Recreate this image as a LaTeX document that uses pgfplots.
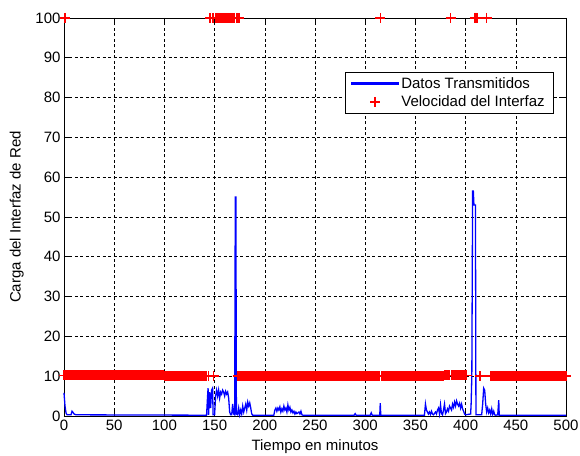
\documentclass[border=0pt]{standalone}
\usepackage{fontspec}
\setmainfont{Liberation Sans}
\usepackage{pgfplots}
\pgfplotsset{compat=1.18}
\usetikzlibrary{calc}
\pgfplotsset{
  lineleg/.style={legend image code/.code={
    \fill[blue] (0pt,-0.65pt) rectangle (47pt,0.65pt);}},
  markleg/.style={legend image code/.code={
    \path[draw=none] (0pt,0pt) -- (47pt,0pt);
    \draw[draw=red, line width=1.5pt, mark=+, mark size=5pt, only marks]
      plot coordinates {(23.5pt,0pt)};}},
}

\begin{document}
\begin{tikzpicture}
\begin{axis}[
  scale only axis,
  width=502pt, height=398pt,
  xmin=0, xmax=500, ymin=0, ymax=100,
  xtick={0,50,...,500}, ytick={0,10,...,100},
  /pgf/number format/assume math mode=true,
  tick label style={font=\fontsize{15}{18}\selectfont},
  label style={font=\fontsize{15}{18}\selectfont},
  xlabel={Tiempo en minutos},
  ylabel={Carga del Interfaz de Red},
  xlabel style={at={(axis description cs:0.5,-0.076)}, anchor=center},
  ylabel style={at={(axis description cs:-0.094,0.5)}, anchor=center},
  grid=major,
  major grid style={black, dash pattern=on 3pt off 2.5pt, line width=0.6pt},
  major tick length=5pt,
  tick style={black, line width=0.6pt},
  axis line style={black, line width=0.8pt},
  clip=false,
  legend style={at={(rel axis cs:0.974,0.864)}, anchor=north east,
    font=\fontsize{15}{18}\selectfont, row sep=2pt,
    inner xsep=6pt, inner ysep=3pt},
  legend cell align=left,
]

% datos transmitidos
\addplot[blue, line width=1.3pt, lineleg]
coordinates {
(0,5.8)(1,2.5)(2,0.8)(3,0.3)(7,0.3)(8,1.2)(9,0.9)(10,0.5)(12,0.3)(142,0.2)
(143,5)(143.5,7)(144,0.3)(145,6)(146,2)(147,6.5)(148,7)(148.5,0.3)(150,0.3)
(151,5)(152,6.5)(153,5)(154,6.5)(155,4.5)(156,6)(157,5.5)(158,6.5)(159,6)
(160,5)(161,6.2)(162,5.5)(163,6)(164,4.5)(165,1)(166,0.3)(167,0.3)(168,3)
(169,0.5)(170,0.3)(170.6,55)(171.2,55)(171.7,0.5)(173,0.3)(174,2)(175,0.3)
(176,1.5)(177,0.5)(178,2.5)(179,1)(180,2)(181,3)(182,1.5)(183,3.5)(184,2.5)
(185,3.3)(186,2)(187,0.5)(188,0.2)(209,0.2)(210,1.5)(211,2)(212,1.2)(213,2)
(214,1.5)(215,2.3)(216,1)(217,1.8)(218,1.2)(219,2.5)(220,1.5)(221,2)(222,1)
(223,2.8)(224,1.5)(225,2.2)(226,1)(227,1.5)(228,0.8)(229,1.2)(230,0.5)(231,1)
(232,0.6)(234,1)(235,0.5)(236,1.2)(237,0.3)(238,0.2)(289,0.2)(290,0.6)(291,0.2)
(305,0.2)(306,0.8)(307,0.2)(314.5,0.2)(315,3.2)(315.5,0.2)(359,0.2)(360,3)
(361,1.5)(362,1)(363,0.5)(364,1)(365,0.4)(366,1.2)(367,0.5)(368,0.3)(370,1)
(371,0.5)(372,1.5)(373,2)(374,0.5)(375,2.8)(376,0.6)(377,0.3)(378,1.5)(379,3)
(380,0.6)(381,1)(382,1.8)(383,1.2)(384,2.5)(385,2)(386,1.5)(387,3)(388,2.2)
(389,3.5)(390,2.5)(391,3.8)(392,3)(393,2.5)(394,3.2)(395,2)(396,3)(397,1.8)
(398,1.2)(399,0.5)(400,0.3)(405,0.5)(405.5,3)(406.2,10)(407,56.5)(407.7,56.5)
(408.3,53)(409.8,53)(410.3,0.3)(416,0.3)(417,3)(418,7)(419,6.5)(420,3)(421,1)
(422,2)(423,0.8)(424,1.5)(425,0.5)(426,1.8)(427,0.4)(428,1.2)(429,0.3)(430,0.2)
(432,0.3)(433,4)(433.5,0.2)(500,0.2)
};
\addlegendentry{Datos Transmitidos}

% velocidad del interfaz
\addplot[only marks, red, mark=+, mark size=5pt, line width=1.5pt, markleg]
coordinates {
(0,10.2)(1,10.2)(2,10.2)(3,10.2)(4,10.2)(5,10.2)(6,10.2)(7,10.2)(8,10.2)(9,10.2)
(10,10.2)(11,10.2)(12,10.2)(13,10.2)(14,10.2)(15,10.2)(16,10.2)(17,10.2)(18,10.2)(19,10.2)
(20,10.2)(21,10.2)(22,10.2)(23,10.2)(24,10.2)(25,10.2)(26,10.2)(27,10.2)(28,10.2)(29,10.2)
(30,10.2)(31,10.2)(32,10.2)(33,10.2)(34,10.2)(35,10.2)(36,10.2)(37,10.2)(38,10.2)(39,10.2)
(40,10.2)(41,10.2)(42,10.2)(43,10.2)(44,10.2)(45,10.2)(46,10.2)(47,10.2)(48,10.2)(49,10.2)
(50,10.2)(51,10.2)(52,10.2)(53,10.2)(54,10.2)(55,10.2)(56,10.2)(57,10.2)(58,10.2)(59,10.2)
(60,10.2)(61,10.2)(62,10.2)(63,10.2)(64,10.2)(65,10.2)(66,10.2)(67,10.2)(68,10.2)(69,10.2)
(70,10.2)(71,10.2)(72,10.2)(73,10.2)(74,10.2)(75,10.2)(76,10.2)(77,10.2)(78,10.2)(79,10.2)
(80,10.2)(81,10.2)(82,10.2)(83,10.2)(84,10.2)(85,10.2)(86,10.2)(87,10.2)(88,10.2)(89,10.2)
(90,10.2)(91,10.2)(92,10.2)(93,10.2)(94,10.2)(95,10.2)(96,10.2)(97,10.2)(98,10.2)(99,10.2)
(100,10)(101,10)(102,10)(103,10)(104,10)(105,10)(106,10)(107,10)(108,10)(109,10)
(110,10)(111,10)(112,10)(113,10)(114,10)(115,10)(116,10)(117,10)(118,10)(119,10)
(120,10)(121,10)(122,10)(123,10)(124,10)(125,10)(126,10)(127,10)(128,10)(129,10)
(130,10)(131,10)(132,10)(133,10)(134,10)(135,10)(136,10)(137,10)(138,10)(139,10)
(140,10)(141,10)(142,10)(144,10)(149,10)
(173,10)(174,10)(175,10)(176,10)(177,10)(178,10)(179,10)
(180,10)(181,10)(182,10)(183,10)(184,10)(185,10)(186,10)(187,10)(188,10)(189,10)
(190,10)(191,10)(192,10)(193,10)(194,10)(195,10)(196,10)(197,10)(198,10)(199,10)
(200,10)(201,10)(202,10)(203,10)(204,10)(205,10)(206,10)(207,10)(208,10)(209,10)
(210,10)(211,10)(212,10)(213,10)(214,10)(215,10)(216,10)(217,10)(218,10)(219,10)
(220,10)(221,10)(222,10)(223,10)(224,10)(225,10)(226,10)(227,10)(228,10)(229,10)
(230,10)(231,10)(232,10)(233,10)(234,10)(235,10)(236,10)(237,10)(238,10)(239,10)
(240,10)(241,10)(242,10)(243,10)(244,10)(245,10)(246,10)(247,10)(248,10)(249,10)
(250,10)(251,10)(252,10)(253,10)(254,10)(255,10)(256,10)(257,10)(258,10)(259,10)
(260,10)(261,10)(262,10)(263,10)(264,10)(265,10)(266,10)(267,10)(268,10)(269,10)
(270,10)(271,10)(272,10)(273,10)(274,10)(275,10)(276,10)(277,10)(278,10)(279,10)
(280,10)(281,10)(282,10)(283,10)(284,10)(285,10)(286,10)(287,10)(288,10)(289,10)
(290,10)(291,10)(292,10)(293,10)(294,10)(295,10)(296,10)(297,10)(298,10)(299,10)
(300,10)(301,10)(302,10)(303,10)(304,10)(305,10)(306,10)(307,10)(308,10)(309,10)
(310,10)(311,10)(312,10)(313,10)(314,10)(316,10)(317,10)(318,10)(319,10)
(320,10)(321,10)(322,10)(323,10)(324,10)(325,10)(326,10)(327,10)(328,10)(329,10)
(330,10)(331,10)(332,10)(333,10)(334,10)(335,10)(336,10)(337,10)(338,10)(339,10)
(340,10)(341,10)(342,10)(343,10)(344,10)(345,10)(346,10)(347,10)(348,10)(349,10)
(350,10)(351,10)(352,10)(353,10)(354,10)(355,10)(356,10)(357,10)(358,10)(359,10)
(360,10)(361,10)(362,10)(363,10)(364,10)(365,10)(366,10)(367,10)(368,10)(369,10)
(370,10)(371,10)(372,10)(373,10)(374,10)(375,10)(376,10)(377,10)(378,10)
(379,10.2)(380,10.2)(381,10.2)(382,10.2)(383,10.2)(384,10.2)(386,10.2)(387,10.2)
(388,10.2)(389,10.2)(390,10.2)(391,10.2)(392,10.2)(393,10.2)(394,10.2)(395,10.2)
(396,10.2)(397,10.2)(398,10.2)(399,10.2)(400,10.2)(401,10.2)
(414,10)(415,10)
(425,10)(426,10)(427,10)(428,10)(429,10)
(430,10)(431,10)(432,10)(433,10)(434,10)(435,10)(436,10)(437,10)(438,10)(439,10)
(440,10)(441,10)(442,10)(443,10)(444,10)(445,10)(446,10)(447,10)(448,10)(449,10)
(450,10)(451,10)(452,10)(453,10)(454,10)(455,10)(456,10)(457,10)(458,10)(459,10)
(460,10)(461,10)(462,10)(463,10)(464,10)(465,10)(466,10)(467,10)(468,10)(469,10)
(470,10)(471,10)(472,10)(473,10)(474,10)(475,10)(476,10)(477,10)(478,10)(479,10)
(480,10)(481,10)(482,10)(483,10)(484,10)(485,10)(486,10)(487,10)(488,10)(489,10)
(490,10)(491,10)(492,10)(493,10)(494,10)(495,10)(496,10)(497,10)(498,10)(499,10)
(500,10)
(1,100)(145.5,100)(148.5,100)(151,100)(152,100)(153,100)(154,100)(155,100)
(156,100)(157,100)(158,100)(159,100)(160,100)(161,100)(162,100)(163,100)
(164,100)(165,100)(166,100)(167,100)(168,100)(169,100)(170,100)(172.5,100)
(174.5,100)(315,100)(385,100)(409,100)(410,100)(411,100)(412,100)(421,100)
};
\addlegendentry{Velocidad del Interfaz}

\end{axis}
\pgfresetboundingbox
\path[use as bounding box] ($(current axis.south west)+(-64pt,-39pt)$)
  rectangle ($(current axis.north east)+(14pt,18pt)$);
\end{tikzpicture}
\end{document}
